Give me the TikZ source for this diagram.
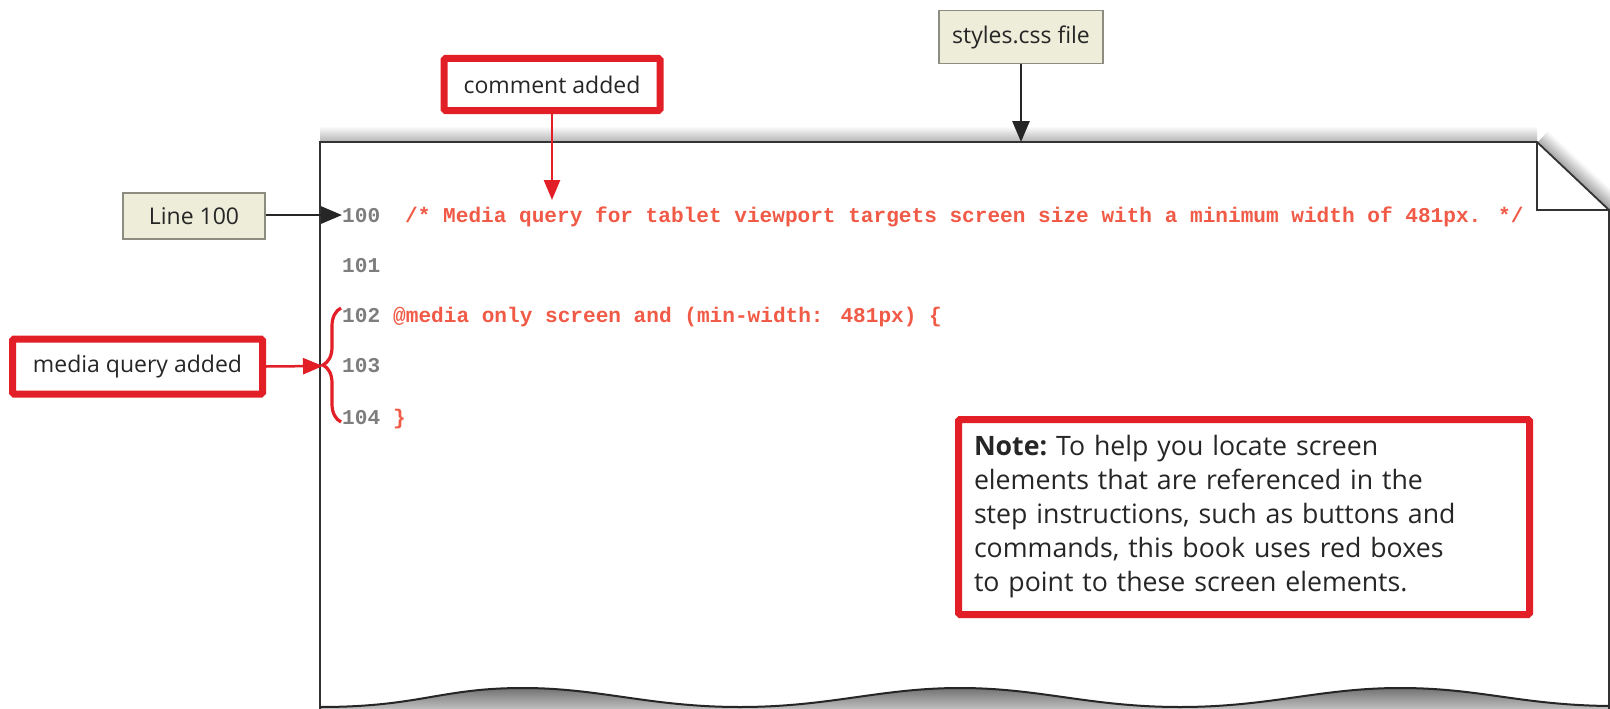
\documentclass[tikz,border=0pt]{standalone}
\usepackage{fontspec}
\newfontfamily\labfont{Open Sans}
\newfontfamily\codefont{Liberation Mono}
\usetikzlibrary{arrows.meta,decorations.pathreplacing}
\definecolor{boxred}{RGB}{226,30,38}
\definecolor{codered}{RGB}{240,90,70}
\definecolor{numgray}{RGB}{125,125,125}
\definecolor{beige}{RGB}{237,237,218}
\definecolor{beigeline}{RGB}{140,140,128}
\tikzset{
 graybox/.style={draw=beigeline, fill=beige, line width=1.5pt, inner sep=0pt, font=\labfont\fontsize{23}{28}\selectfont, text=black!85},
 redbox/.style={draw=boxred, fill=white, line width=7pt, rounded corners=1.5pt, inner sep=0pt, font=\labfont\fontsize{23}{28}\selectfont, text=black!85},
 blackarrow/.style={line width=2.8pt, -{Triangle[length=21pt,width=17pt]}, black!85},
 redarrow/.style={line width=2.5pt, -{Triangle[length=20pt,width=16pt]}, boxred},
 lnum/.style={anchor=base west, inner sep=0pt, text=numgray, font=\codefont\bfseries\fontsize{21.1}{25}\selectfont},
 codeline/.style={anchor=base west, inner sep=0pt, text=codered, font=\codefont\bfseries\fontsize{21.1}{25}\selectfont},
 pageline/.style={line width=1.8pt, draw=black!80},
}
\begin{document}
\begin{tikzpicture}[x=1pt,y=-1pt]
\useasboundingbox (0,0) rectangle (1610,709);
% shadow above the page top
\shade[top color=white, bottom color=black!30] (320,126) rectangle (1537,142);
% shadow along the folded corner
\begin{scope}
\clip (1530,100) rectangle (1610,215);
\foreach \i in {0,...,16}{
  \pgfmathsetmacro{\shd}{38-2.3*\i}
  \draw[line width=1.3pt, black!\shd] (1537+0.68*\i,143-0.73*\i) -- (1612+0.68*\i,212-0.73*\i);
}
\end{scope}
% page
\fill[white] (320,142) -- (1537,142) -- (1609,210) -- (1609,706)
  .. controls (1520,705) and (1480,688) .. (1400,688)
  .. controls (1320,688) and (1270,707) .. (1180,707)
  .. controls (1090,707) and (1040,688) .. (960,688)
  .. controls (880,688) and (830,707) .. (740,707)
  .. controls (650,707) and (600,688) .. (523,688)
  .. controls (440,688) and (420,707) .. (320,707) -- cycle;
% shading under the wavy bottom
\shade[top color=black!55, bottom color=black!25] (1609,709) -- (1609,706)
  .. controls (1520,705) and (1480,688) .. (1400,688)
  .. controls (1320,688) and (1270,707) .. (1180,707)
  .. controls (1090,707) and (1040,688) .. (960,688)
  .. controls (880,688) and (830,707) .. (740,707)
  .. controls (650,707) and (600,688) .. (523,688)
  .. controls (440,688) and (420,707) .. (320,707) -- (320,709) -- cycle;
\draw[pageline] (320,709) -- (320,142) -- (1537,142) -- (1609,210) -- (1609,709);
\draw[pageline] (1537,142) -- (1537,210) -- (1609,210);
\draw[line width=2pt, black!85] (1609,706)
  .. controls (1520,705) and (1480,688) .. (1400,688)
  .. controls (1320,688) and (1270,707) .. (1180,707)
  .. controls (1090,707) and (1040,688) .. (960,688)
  .. controls (880,688) and (830,707) .. (740,707)
  .. controls (650,707) and (600,688) .. (523,688)
  .. controls (440,688) and (420,707) .. (320,707);
% code lines
\node[lnum] (n100) at (342,222) {100};
\node[lnum] (n101) at (342,272) {101};
\node[lnum] (n102) at (342,322) {102};
\node[lnum] (n103) at (342,372) {103};
\node[lnum] (n104) at (342,424) {104};
\node[codeline] (c100) at (405,222) {/* Media query for tablet viewport targets screen size with a minimum width of 481px. */};
\node[codeline] (c102) at (393,322) {@media only screen and (min-width: 481px) \{};
\node[codeline] (c104) at (393,424) {\}};
% brace
\draw[boxred, line width=3.2pt, decorate, decoration={brace, amplitude=18pt}] (341,422) -- (341,308);
\coordinate (bracetip) at (323,366);
% callouts
\node[graybox, minimum width=164, minimum height=53] (styles) at (1021,37) {styles.css file};
\node[redbox, minimum width=216, minimum height=52] (comment) at (552,84.5) {comment added};
\node[graybox, minimum width=142, minimum height=46] (line100) at (194,216) {Line 100};
\node[redbox, minimum width=250, minimum height=55] (mq) at (137.5,366.5) {media query added};
\node[redbox, minimum width=571, minimum height=195, inner xsep=15pt, align=left, text width=540pt,
  font=\labfont\fontsize{26.7}{34}\selectfont\frenchspacing] (note) at (1244,517)
  {\textbf{Note:} To help you locate screen\\ elements that are referenced in the\\ step instructions, such as buttons and\\ commands, this book uses red boxes\\ to point to these screen elements.};
\coordinate (pagetop) at (1021,142);
\coordinate (cmtip) at (552,200);
\draw[blackarrow] (styles.south) -- (pagetop);
\draw[redarrow] (comment.south) -- (cmtip);
\draw[blackarrow] (line100.east |- n100.west) -- (n100.west);
\draw[redarrow] (mq.east) -- (bracetip);
\end{tikzpicture}
\end{document}
